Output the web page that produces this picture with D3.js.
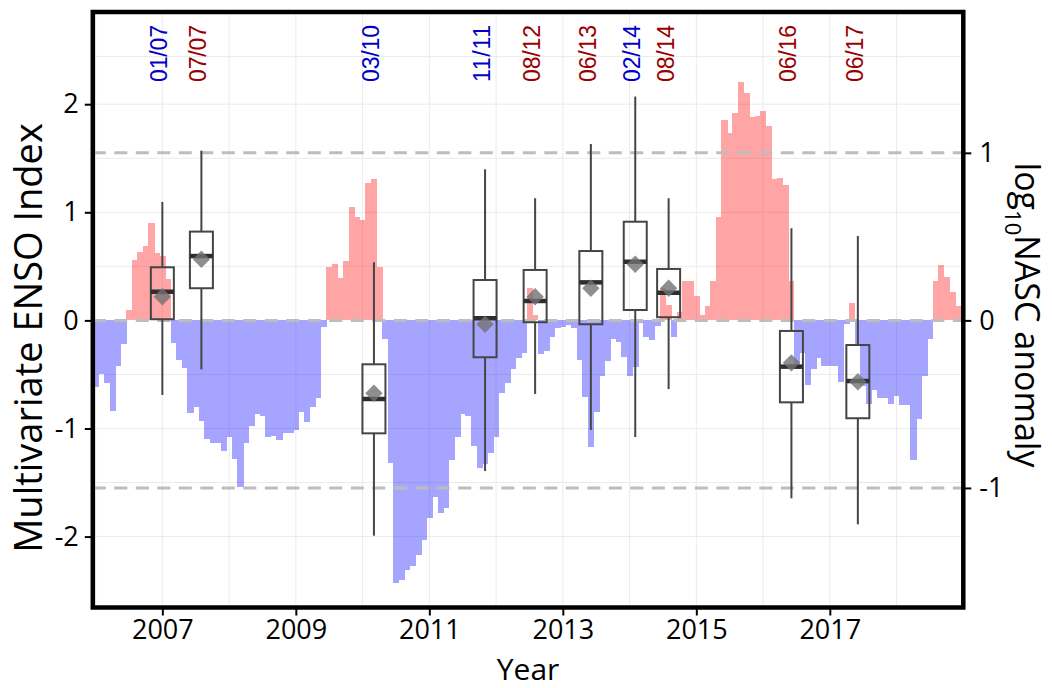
<!DOCTYPE html>
<html>
<head>
<meta charset="utf-8">
<style>
body { margin: 0; background: #fff; }
svg { display: block; }
.tick text { font-family: "Open Sans", Lato, sans-serif; }
.title { font-family: "Open Sans", Lato, sans-serif; }
.survey { font-family: "Liberation Sans", Arial, sans-serif; }
</style>
</head>
<body>
<svg width="1052" height="688"></svg>
<script src="https://d3js.org/d3.v7.min.js"></script>
<script>

// monthly Multivariate ENSO Index, Jan..Dec
var mei2006 = [-0.62, -0.50, -0.58, -0.84, -0.42, -0.22, 0.10, 0.56, 0.63, 0.69, 0.90, 0.62];
var mei2007 = [0.60, 0.38, -0.21, -0.37, -0.44, -0.86, -0.80, -0.93, -1.10, -1.13, -1.13, -1.21];
var mei2008 = [-1.08, -1.28, -1.54, -1.13, -0.98, -0.87, -0.88, -1.08, -1.07, -1.11, -1.04, -1.04];
var mei2009 = [-1.01, -0.85, -0.94, -0.80, -0.72, -0.06, 0.49, 0.52, 0.39, 0.55, 1.05, 0.96];
var mei2010 = [0.93, 1.27, 1.31, 0.49, -0.17, -1.32, -2.43, -2.40, -2.31, -2.27, -2.17, -2.03];
var mei2011 = [-1.83, -1.63, -1.78, -1.74, -1.29, -1.08, -0.87, -0.88, -1.16, -1.37, -1.33, -1.23];
var mei2012 = [-1.08, -0.67, -0.58, -0.45, -0.35, -0.30, 0.30, 0.05, -0.31, -0.28, -0.15, -0.07];
var mei2013 = [-0.06, -0.04, -0.07, -0.37, -0.71, -1.17, -0.85, -0.51, -0.38, -0.17, -0.20, -0.34];
var mei2014 = [-0.51, -0.43, -0.02, -0.15, -0.18, -0.05, 0.30, 0.14, -0.15, 0.08, 0.36, 0.36];
var mei2015 = [0.23, 0.05, 0.13, 0.36, 0.96, 1.85, 1.73, 1.92, 2.21, 2.10, 1.88, 1.89];
var mei2016 = [1.94, 1.80, 1.31, 1.32, 1.25, 0.36, -0.45, -0.30, -0.60, -0.45, -0.35, -0.42];
var mei2017 = [-0.42, -0.42, -0.57, -0.03, 0.16, -0.23, -0.61, -0.77, -0.64, -0.72, -0.72, -0.77];
var mei2018 = [-0.70, -0.78, -0.78, -1.29, -0.91, -0.51, -0.17, 0.36, 0.51, 0.40, 0.26, 0.13];

// acoustic surveys: log10 NASC anomaly boxplots (right axis)
var surveyLabels = ["01/07", "07/07", "03/10", "11/11", "08/12", "06/13", "02/14", "08/14", "06/16", "06/17"];
var surveyDates  = [2007.0, 2007.585, 2010.17, 2011.835, 2012.585, 2013.42, 2014.085, 2014.585, 2016.425, 2017.42];
var surveyWarm   = [false, true, false, false, true, true, false, true, true, true];
var whiskLow  = [-0.445, -0.292, -1.285, -0.899, -0.439, -0.654, -0.696, -0.410, -1.062, -1.217];
var q1        = [0.007, 0.192, -0.674, -0.220, -0.011, -0.023, 0.062, 0.019, -0.489, -0.584];
var medians   = [0.171, 0.384, -0.469, 0.013, 0.116, 0.227, 0.350, 0.165, -0.276, -0.362];
var q3        = [0.317, 0.530, -0.262, 0.241, 0.301, 0.414, 0.589, 0.307, -0.063, -0.147];
var whiskHigh = [0.707, 1.013, 0.347, 0.902, 0.729, 1.053, 1.336, 0.729, 0.550, 0.504];
var means     = [0.141, 0.365, -0.435, -0.023, 0.141, 0.192, 0.335, 0.192, -0.253, -0.366];

var yearTicks = [2007, 2009, 2011, 2013, 2015, 2017];
var meiTicks = [-2, -1, 0, 1, 2];
var nascTicks = [-1, 0, 1];

var mei = [].concat(mei2006, mei2007, mei2008, mei2009, mei2010, mei2011, mei2012,
                    mei2013, mei2014, mei2015, mei2016, mei2017, mei2018);
var monthly = mei.map(function(v, i) { return {t: 2006 + i / 12, v: v}; });

var svg = d3.select("svg");

var pL = 92.8, pR = 963.3, pT = 12, pB = 607.5;
var x = d3.scaleLinear().domain([2005.958, 2019.0]).range([pL, pR]);
var y = d3.scaleLinear().domain([-2.656, 2.853]).range([pB, pT]);
var ratio = 1.55; // NASC anomaly of 1 sits at MEI 1.55
var y2 = d3.scaleLinear().domain([-2.656 / ratio, 2.853 / ratio]).range([pB, pT]);

// grid
var grid = svg.append("g").attr("stroke", "#ebebeb").attr("stroke-width", 1);
d3.range(2006, 2019).forEach(function(yr) {
  grid.append("line").attr("x1", x(yr)).attr("x2", x(yr)).attr("y1", pT).attr("y2", pB);
});
[-2, -1.5, -1, -0.5, 0.5, 1, 1.5, 2, 2.44].forEach(function(v) {
  grid.append("line").attr("x1", pL).attr("x2", pR).attr("y1", y(v)).attr("y2", y(v));
});

// MEI bars
var monthW = x(2006 + 1 / 12) - x(2006);
function bars(sign, col) {
  svg.append("g").attr("opacity", 0.35)
    .selectAll("rect")
    .data(monthly.filter(function(d) { return sign > 0 ? d.v > 0 : d.v < 0; }))
    .enter().append("rect")
      .attr("shape-rendering", "crispEdges")
      .attr("x", function(d) { return x(d.t) - monthW / 2; })
      .attr("width", monthW + 0.6)
      .attr("y", function(d) { return y(Math.max(0, d.v)); })
      .attr("height", function(d) { return Math.abs(y(d.v) - y(0)); })
      .attr("fill", col);
}
bars(1, "#ff0000");
bars(-1, "#0000ff");

// reference lines on the NASC axis
[-1, 0, 1].forEach(function(v) {
  svg.append("line")
    .attr("x1", pL).attr("x2", pR).attr("y1", y2(v)).attr("y2", y2(v))
    .attr("stroke", "#bdbdbd").attr("stroke-width", 3)
    .attr("stroke-dasharray", "13,8.5");
});

// boxplots
var boxHalf = 11.5;
var boxes = svg.append("g");
surveyDates.forEach(function(t, i) {
  var cx = x(t);
  var g = boxes.append("g").attr("stroke", "#454545").attr("stroke-width", 2).attr("fill", "none");
  g.append("line").attr("x1", cx).attr("x2", cx).attr("y1", y2(whiskHigh[i])).attr("y2", y2(q3[i]));
  g.append("line").attr("x1", cx).attr("x2", cx).attr("y1", y2(q1[i])).attr("y2", y2(whiskLow[i]));
  g.append("rect").attr("x", cx - boxHalf).attr("width", boxHalf * 2)
    .attr("y", y2(q3[i])).attr("height", y2(q1[i]) - y2(q3[i]));
  g.append("line").attr("x1", cx - boxHalf).attr("x2", cx + boxHalf)
    .attr("y1", y2(medians[i])).attr("y2", y2(medians[i]))
    .attr("stroke", "#2e2e2e").attr("stroke-width", 4.5);
  boxes.append("path")
    .attr("d", d3.symbol(d3.symbolSquare, 150)())
    .attr("transform", "translate(" + cx + "," + y2(means[i]) + ") rotate(45)")
    .attr("fill", "#727272").attr("opacity", 0.8);
});

// survey labels
svg.append("g").selectAll("text")
  .data(surveyLabels)
  .enter().append("text")
    .attr("class", "survey")
    .attr("transform", function(d, i) { return "translate(" + (x(surveyDates[i]) - 3) + ",82) rotate(-90)"; })
    .attr("dy", "0.35em")
    .attr("font-size", 23)
    .attr("textLength", 57)
    .attr("lengthAdjust", "spacing")
    .attr("fill", function(d, i) { return surveyWarm[i] ? "#9b0000" : "#0000c8"; })
    .text(function(d) { return d; });

// axes
function styleAxis(g) {
  g.select(".domain").remove();
  g.selectAll(".tick line").attr("stroke", "#000").attr("stroke-width", 2);
  g.selectAll(".tick text").attr("fill", "#000").attr("font-size", 27);
}
svg.append("g").attr("transform", "translate(0," + pB + ")")
  .call(d3.axisBottom(x).tickValues(yearTicks).tickFormat(d3.format("d")).tickSize(8).tickPadding(4))
  .call(styleAxis);
svg.append("g").attr("transform", "translate(" + pL + ",0)")
  .call(d3.axisLeft(y).tickValues(meiTicks).tickFormat(function(d) { return String(d); }).tickSize(8).tickPadding(6))
  .call(styleAxis);
svg.append("g").attr("transform", "translate(" + pR + ",0)")
  .call(d3.axisRight(y2).tickValues(nascTicks).tickFormat(function(d) { return String(d); }).tickSize(8).tickPadding(8))
  .call(styleAxis);

// panel border
svg.append("rect").attr("x", pL).attr("y", pT)
  .attr("width", pR - pL).attr("height", pB - pT)
  .attr("fill", "none").attr("stroke", "#000").attr("stroke-width", 4.5);

// titles
svg.append("text").attr("class", "title")
  .attr("x", (pL + pR) / 2).attr("y", 680)
  .attr("text-anchor", "middle").attr("font-size", 30).text("Year");
svg.append("text").attr("class", "title")
  .attr("transform", "translate(42,338) rotate(-90)")
  .attr("text-anchor", "middle").attr("font-size", 38).text("Multivariate ENSO Index");
var rt = svg.append("text").attr("class", "title")
  .attr("transform", "translate(1015,315) rotate(90)")
  .attr("text-anchor", "middle").attr("font-size", 34);
rt.append("tspan").text("log");
rt.append("tspan").attr("font-size", 22).attr("dy", 10).text("10");
rt.append("tspan").attr("dy", -10).text("NASC anomaly");

</script>
</body>
</html>
